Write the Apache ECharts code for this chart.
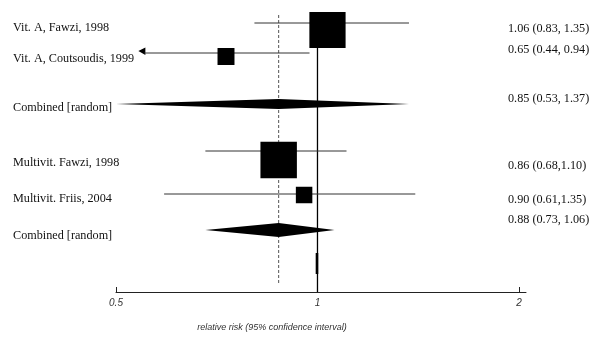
<!DOCTYPE html>
<html><head><meta charset="utf-8">
<script src="https://cdn.jsdelivr.net/npm/echarts@6/dist/echarts.min.js"></script>
<style>html,body{margin:0;padding:0;background:#fff}#c{width:600px;height:344px}</style>
</head><body><div id="c"></div>
<script>
// ---------------- data ----------------
const studies = ['Vit. A, Fawzi, 1998', 'Vit. A, Coutsoudis, 1999', 'Multivit. Fawzi, 1998', 'Multivit. Friis, 2004'];
const studyEstimate = [1.035, 0.73, 0.875, 0.955];
const studyLower = [0.805, 0.54, 0.68, 0.59];
const studyUpper = [1.37, 0.973, 1.105, 1.40];
const studyWeight = [82, 18, 83, 17];
const studyLowerClipped = [false, true, false, false];
const studyText = ['1.06 (0.83, 1.35)', '0.65 (0.44, 0.94)', '0.86 (0.68,1.10)', '0.90 (0.61,1.35)'];

const pooledLabels = ['Combined [random]', 'Combined [random]'];
const pooledEstimate = [0.875, 0.875];
const pooledLower = [0.50, 0.68];
const pooledUpper = [1.37, 1.06];
const pooledText = ['0.85 (0.53, 1.37)', '0.88 (0.73, 1.06)'];

const overallRR = 0.875;
const nullRR = 1;
const tickValues = [0.5, 1, 2];
const tickMarks = [0.5, 2];
const axisTitle = 'relative risk (95% confidence interval)';

// ---------------- layout (vertical positions in plot units, sizes, styles) ----------------
const layout = {
  studyRow: [30, 56.5, 160, 195],
  studyLineOffset: [-7, -3.5, -9, -1],
  studyLabelY: [28, 59, 163, 199],
  studyTextY: [29, 50, 166, 200],
  pooledRow: [104, 230],
  pooledHeight: [10, 14],
  pooledLabelY: [108, 236],
  pooledTextY: [99, 220],
  boxScale: 40,
  dashTop: 15, dashBottom: 285,
  nullTop: 12, nullBottom: 292,
  nullThickTop: 253, nullThickBottom: 274,
  leftTextX: 13, rightTextX: 508,
  serif: '"Liberation Serif", "Times New Roman", serif',
  sans: '"Liberation Sans", Arial, sans-serif'
};

const chart = echarts.init(document.getElementById('c'), null, { renderer: 'canvas' });

function textEl(x, y, text) {
  return {
    type: 'text', x: x, y: y,
    style: { text: text, fill: '#111', fontSize: 12.2, fontFamily: layout.serif, align: 'left', verticalAlign: 'middle' }
  };
}

const option = {
  animation: false,
  backgroundColor: '#fff',
  grid: { left: 116, right: 74, top: 0, bottom: 52 },
  xAxis: {
    type: 'log', logBase: 2, min: 0.5, max: 2.049, position: 'bottom',
    splitLine: { show: false },
    axisLine: { onZero: false, lineStyle: { color: '#222', width: 1 } },
    axisTick: { show: true, inside: true, length: 5, customValues: tickMarks, lineStyle: { color: '#222', width: 1 } },
    axisLabel: {
      customValues: tickValues, margin: 6,
      fontStyle: 'italic', fontSize: 10, fontFamily: layout.sans, color: '#333',
      formatter: v => String(Math.round(v * 10) / 10)
    }
  },
  yAxis: { type: 'value', min: 0, max: 292, inverse: true, show: false },
  graphic: [{
    type: 'text', x: 272, y: 327,
    style: { text: axisTitle, align: 'center', verticalAlign: 'middle', fontStyle: 'italic', fontSize: 9, fontFamily: layout.sans, fill: '#333' }
  }],
  series: [
    // reference lines: pooled estimate (dashed) and null effect (solid)
    {
      type: 'custom', silent: true, z: 1,
      data: [[overallRR, layout.dashTop]],
      encode: { x: 0, y: 1 },
      renderItem: function (params, api) {
        const a = api.coord([overallRR, layout.dashTop]);
        const b = api.coord([overallRR, layout.dashBottom]);
        const c = api.coord([nullRR, layout.nullTop]);
        const d = api.coord([nullRR, layout.nullBottom]);
        const e = api.coord([nullRR, layout.nullThickTop]);
        const f = api.coord([nullRR, layout.nullThickBottom]);
        return {
          type: 'group', children: [
            { type: 'line', shape: { x1: a[0], y1: a[1], x2: b[0], y2: b[1] }, style: { stroke: '#555', lineWidth: 1, lineDash: [3, 2] } },
            { type: 'line', shape: { x1: c[0], y1: c[1], x2: d[0], y2: d[1] }, style: { stroke: '#000', lineWidth: 1.3 } },
            { type: 'line', shape: { x1: e[0] - 0.5, y1: e[1], x2: f[0] - 0.5, y2: f[1] }, style: { stroke: '#000', lineWidth: 2.6 } }
          ]
        };
      }
    },
    // individual studies: CI line + weighted box
    {
      type: 'custom', silent: true, z: 3,
      data: studies.map((s, i) => [studyLower[i], studyUpper[i], studyEstimate[i], layout.studyRow[i]]),
      encode: { x: [0, 1, 2], y: 3 },
      renderItem: function (params, api) {
        const i = params.dataIndex;
        const yc = layout.studyRow[i];
        const yl = yc + layout.studyLineOffset[i];
        const pLo = api.coord([studyLower[i], yl]);
        const pHi = api.coord([studyUpper[i], yl]);
        const pE = api.coord([studyEstimate[i], yc]);
        const side = layout.boxScale * Math.sqrt(studyWeight[i] / 100);
        const children = [];
        let startX = pLo[0];
        if (studyLowerClipped[i]) {
          children.push({ type: 'polygon', shape: { points: [[pLo[0], pLo[1] - 2], [pLo[0] + 7, pLo[1] - 5.5], [pLo[0] + 7, pLo[1] + 2]] }, style: { fill: '#000' } });
          startX = pLo[0] + 6;
        }
        children.push({ type: 'line', shape: { x1: startX, y1: pLo[1], x2: pHi[0], y2: pHi[1] }, style: { stroke: '#333', lineWidth: 1 } });
        children.push({ type: 'rect', shape: { x: pE[0] - side / 2, y: pE[1] - side / 2, width: side, height: side }, style: { fill: '#000' } });
        return { type: 'group', children: children };
      }
    },
    // pooled estimates: diamonds
    {
      type: 'custom', silent: true, z: 4,
      data: pooledLabels.map((s, i) => [pooledLower[i], pooledUpper[i], pooledEstimate[i], layout.pooledRow[i]]),
      encode: { x: [0, 1, 2], y: 3 },
      renderItem: function (params, api) {
        const i = params.dataIndex;
        const y = layout.pooledRow[i];
        const h = layout.pooledHeight[i] / 2;
        const lo = api.coord([pooledLower[i], y]);
        const hi = api.coord([pooledUpper[i], y]);
        const e = api.coord([pooledEstimate[i], y]);
        return {
          type: 'polygon',
          shape: { points: [[lo[0], lo[1]], [e[0], e[1] - h], [hi[0], hi[1]], [e[0], e[1] + h]] },
          style: { fill: '#000' }
        };
      }
    },
    // text columns
    {
      type: 'custom', silent: true, z: 5,
      data: [[1, 0]],
      encode: { x: 0, y: 1 },
      renderItem: function (params, api) {
        const children = [];
        const yOf = v => api.coord([1, v])[1];
        studies.forEach((s, i) => {
          children.push(textEl(layout.leftTextX, yOf(layout.studyLabelY[i]), s));
          children.push(textEl(layout.rightTextX, yOf(layout.studyTextY[i]), studyText[i]));
        });
        pooledLabels.forEach((s, i) => {
          children.push(textEl(layout.leftTextX, yOf(layout.pooledLabelY[i]), s));
          children.push(textEl(layout.rightTextX, yOf(layout.pooledTextY[i]), pooledText[i]));
        });
        return { type: 'group', children: children };
      }
    }
  ]
};
chart.setOption(option);
</script>
</body></html>
